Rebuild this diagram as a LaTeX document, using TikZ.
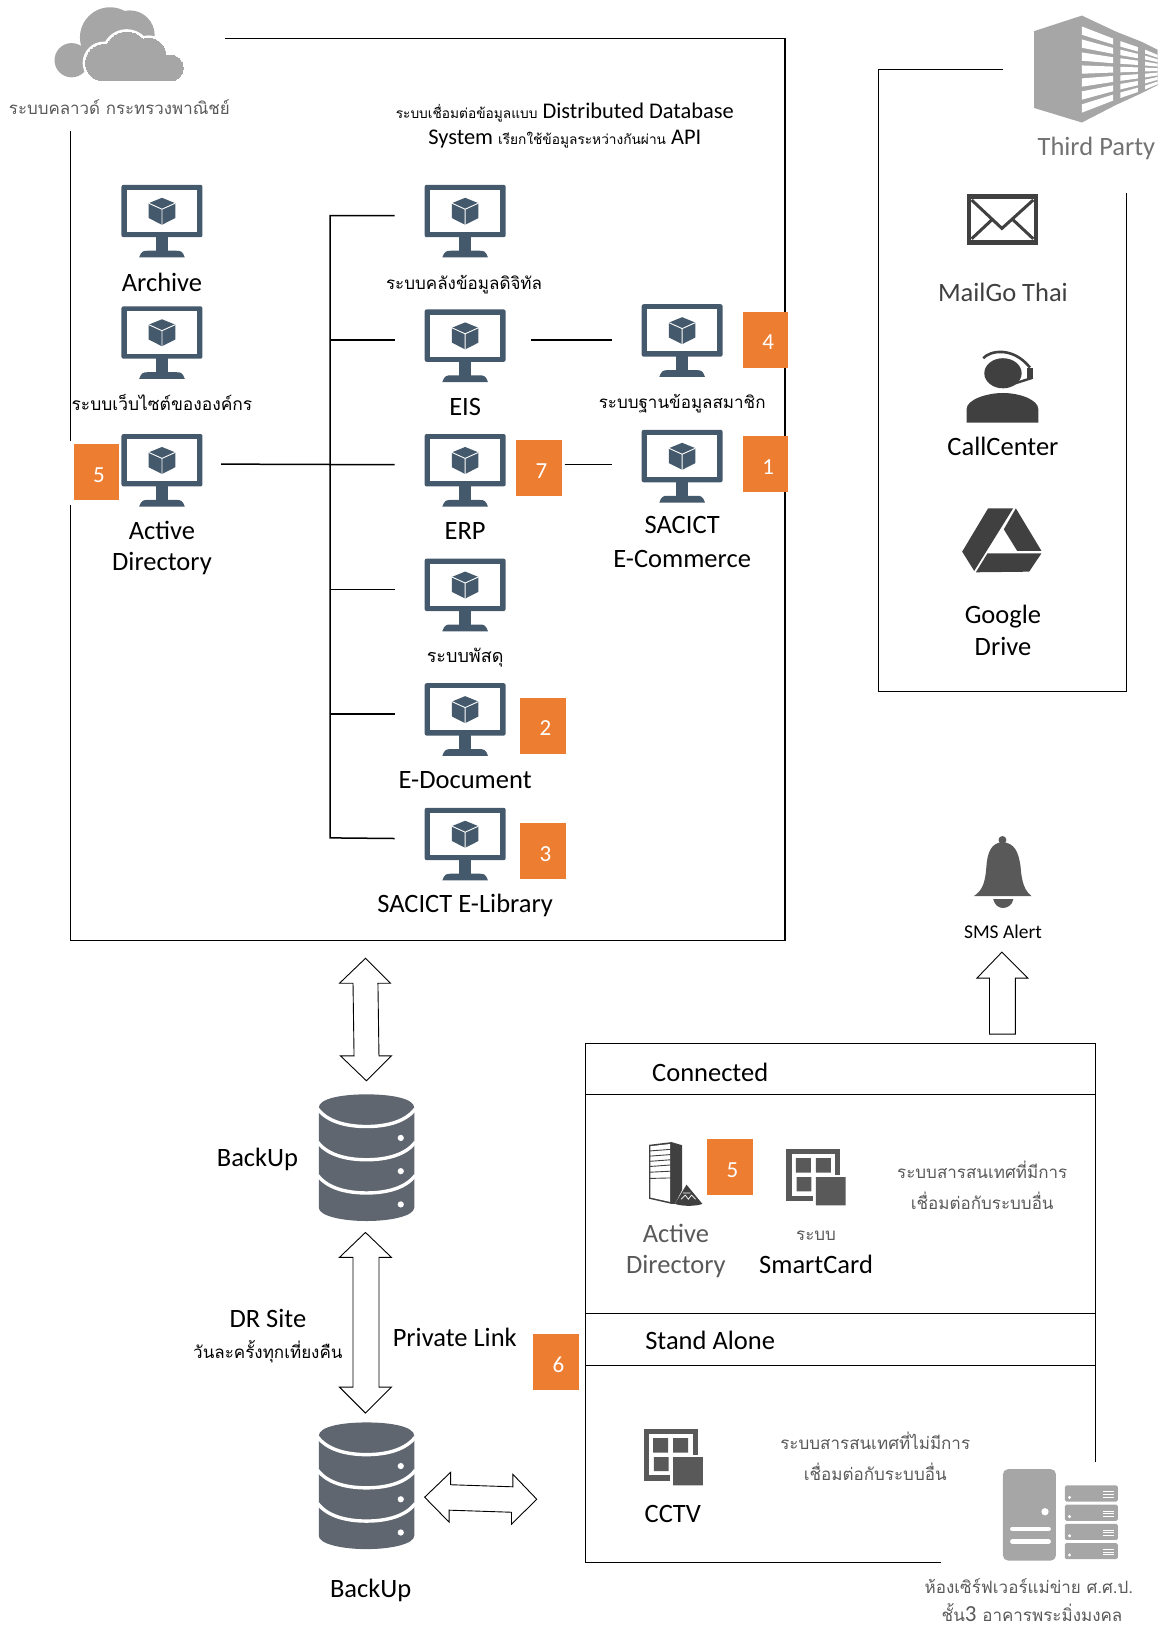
\documentclass[tikz,border=0pt]{standalone}
\usepackage{fontspec}
\setmainfont{Carlito}
\newfontfamily\thaifont[Script=Thai]{Loma}
\newcommand{\thaismall}[1]{{\thaifont\fontsize{13.7}{13.7}\selectfont #1}}
\newcommand{\badgenum}[1]{\hspace*{5pt}\raisebox{-10pt}[0pt][0pt]{#1}}
\definecolor{monitorblue}{HTML}{44596B}
\definecolor{badgeorange}{HTML}{ED7D31}
\definecolor{cloudgray}{HTML}{A6A6A6}
\definecolor{icondark}{HTML}{404040}
\definecolor{gridgray}{HTML}{595959}
\definecolor{dbgray}{HTML}{5F6670}
\tikzset{
  lbl/.style={inner sep=0pt,font=\fontsize{26.5}{26.5}\selectfont},
  thlbl/.style={inner sep=0pt,font=\thaifont\fontsize{17}{17}\selectfont},
  badge/.style={fill=badgeorange,text=white,minimum width=45.5pt,minimum height=56pt,inner sep=0pt,outer xsep=3pt,font=\fontsize{23}{23}\selectfont},
  boxline/.style={line width=1.5pt},
  blockarrow/.style={draw,line width=0.9pt,fill=white},
  monitor/.pic={
    \node[minimum width=81pt,minimum height=60pt,inner sep=0pt,outer xsep=30pt] (-box) at (0,29.6) {};
    \fill[monitorblue,rounded corners=2pt] (-39,0) rectangle (39,50.5);
    \fill[white] (-34,5) rectangle (34,45.5);
    \fill[monitorblue] (-6,50) rectangle (6,64);
    \fill[monitorblue] (-22,70) .. controls (-20,64) and (-18,63.5) .. (-14,63.5) -- (14,63.5) .. controls (18,63.5) and (20,64) .. (22,70) -- cycle;
    \fill[monitorblue] (0,12.5) -- (12.8,17.7) -- (12.8,32) -- (0,38.5) -- (-12.8,32) -- (-12.8,17.7) -- cycle;
    \draw[white,line width=0.9pt] (-12.8,17.7) -- (0,23.5) -- (12.8,17.7) (0,23.5) -- (0,38.5);
  },
  gridicon/.pic={
    \fill[gridgray] (0,0) rectangle (52,50);
    \fill[white] (5,5) rectangle (47,45);
    \fill[white] (25.5,25) rectangle (58,56);
    \fill[gridgray] (9,9) rectangle (23.5,23) (28.3,9) rectangle (42.8,23) (9.7,27.3) rectangle (24,41) (28.3,27.3) rectangle (57,54.5);
  },
  database/.pic={
    \fill[dbgray] (-46,13) .. controls (-46,4) and (-24,0) .. (0,0) .. controls (24,0) and (46,4) .. (46,13) -- (46,109) .. controls (46,117) and (24,122) .. (0,122) .. controls (-24,122) and (-46,117) .. (-46,109) -- cycle;
    \foreach \dy in {13,45,77}{
      \draw[white,line width=3.4pt] (-47,\dy+1) .. controls (-38,\dy+13) and (-20,\dy+18) .. (0,\dy+18) .. controls (20,\dy+18) and (38,\dy+13) .. (47,\dy+1);
      \fill[white] (33,\dy+29) circle (3);
    }
  },
  rackunit/.pic={
    \fill[cloudgray,rounded corners=1.5pt] (0,0) rectangle (51,15.5);
    \fill[white] (4.5,11.5) circle (1.6);
    \draw[white,line width=0.7pt] (37,6) -- (47,6) (37,8.5) -- (47,8.5) (37,11) -- (47,11);
  }
}
\begin{document}
\begin{tikzpicture}[x=1.0384pt,y=-1.0384pt]
\useasboundingbox (0,0) rectangle (1120,1568);
% cloud
\fill[cloudgray] (69,58) circle (16.5) (106,36) circle (29) (125,34) circle (24);
\fill[cloudgray] (85,60) rectangle (125,74.5);
\foreach \c/\w in {white/6pt,cloudgray/0pt}{
  \fill[\c,draw=\c,line width=\w] (100,60.5) circle (17.5) (122,52) circle (21) (143,54) circle (17) (164,65.5) circle (12.5);
  \fill[\c,draw=\c,line width=\w] (100,64) rectangle (164,78);
}
\node[lbl,font=\thaifont\fontsize{16.9}{16.9}\selectfont,text=gridgray] (cloudlabel) at (115,103) {ระบบคลาวด์ กระทรวงพาณิชย์};
% main box
\coordinate (maintl) at (217,37);
\coordinate (mainbr) at (756,906);
\coordinate (mainbl) at (68,906);
\draw[boxline] (maintl) -| (mainbr) -- (mainbl) -- (68,486);
\draw[boxline] (68,425) -- (68,126);
\node[lbl,font=\fontsize{22.4}{22.4}\selectfont] (dist1) at (544,108) {\thaismall{ระบบเชื่อมต่อข้อมูลแบบ} Distributed Database};
\node[lbl,font=\fontsize{22.4}{22.4}\selectfont] (dist2) at (544,134) {System \thaismall{เรียกใช้ข้อมูลระหว่างกันผ่าน} API};
% monitors
\pic (archive) at (156,178) {monitor};
\pic (website) at (156,295) {monitor};
\pic (adhome) at (156,418) {monitor};
\pic (digital) at (448,178) {monitor};
\pic (eis) at (448,298) {monitor};
\pic (erp) at (448,418) {monitor};
\pic (parcel) at (448,538) {monitor};
\pic (edoc) at (448,658) {monitor};
\pic (library) at (448,778) {monitor};
\pic (member) at (657,293) {monitor};
\pic (sacict) at (657,414) {monitor};
\node[lbl] (archivelabel) at (156,272) {Archive};
\node[thlbl,font=\thaifont\fontsize{17.4}{17.4}\selectfont] (websitelabel) at (156,388) {ระบบเว็บไซต์ขององค์กร};
\node[lbl] (adlabel) at (156,511) {Active};
\node[lbl] (adlabelb) at (156,543) {Directory};
\node[thlbl] (digitallabel) at (447,274) {ระบบคลังข้อมูลดิจิทัล};
\node[lbl] (eislabel) at (448,392) {EIS};
\node[lbl] (erplabel) at (448,511) {ERP};
\node[thlbl,font=\thaifont\fontsize{18}{18}\selectfont] (parcellabel) at (448,633) {ระบบพัสดุ};
\node[lbl] (edoclabel) at (448,751) {E-Document};
\node[lbl] (librarylabel) at (448,872) {SACICT E-Library};
\node[thlbl] (memberlabel) at (657,389) {ระบบฐานข้อมูลสมาชิก};
\node[lbl] (sacictlabel) at (657,506) {SACICT};
\node[lbl] (sacictlabelb) at (657,538) {E-Commerce};
% badges
\node[badge] (b4) at (737.5,327) {\badgenum{4}};
\node[badge] (b1) at (737.5,447) {\badgenum{1}};
\node[badge] (b7) at (519,451) {\badgenum{7}};
\node[badge] (b5) at (93,455) {\badgenum{5}};
\node[badge] (b2) at (523,699) {\badgenum{2}};
\node[badge] (b3) at (523,820) {\badgenum{3}};
\node[badge] (b5b) at (703,1124) {\badgenum{5}};
\node[badge] (b6) at (535.5,1312) {\badgenum{6}};
% links
\coordinate (busbot) at (318,807);
\coordinate (adout) at (213,447);
\draw[boxline] (digital-box.west) -- (digital-box.west -| busbot) -- (busbot) -- (library-box.west);
\foreach \n in {eis,parcel,edoc}{
  \draw[boxline] (\n-box.west) -- (\n-box.west -| busbot);
}
\draw[boxline] (adout) -- (erp-box.west);
\draw[boxline,shorten <=-5pt] (eis-box.east) -- (eis-box.east -| member-box.west);
\draw[boxline] (erp-box.east -| b7.east) -- (erp-box.east -| sacict-box.west);
% third party
\fill[cloudgray] (996,30) -- (1042,15) -- (1075,30.5) -- (1099,40) -- (1115,48) -- (1115,82) -- (1099,90) -- (1075,101) -- (1042,118) -- (996,104) -- cycle;
\foreach \xa/\ha/\xb/\hb in {1042/50/1072/36,1079/33/1096/26,1103/23/1115/17}{
  \foreach \t in {-0.75,-0.5,-0.25,0,0.25,0.5,0.75}{
    \fill[white] (\xa,67+\t*\ha-0.08*\ha) -- (\xa,67+\t*\ha+0.08*\ha) -- (\xb,67+\t*\hb+0.08*\hb) -- (\xb,67+\t*\hb-0.08*\hb) -- cycle;
  }
}
\node[lbl,text=gridgray!85] (thirdlabel) at (1056,143) {Third Party};
\coordinate (thirdstart) at (966,67);
\coordinate (thirdend) at (1085,186);
\draw[boxline] (thirdstart) -- (846,67) -- (846,666) -- (1085,666) -- (thirdend);
% mail
\fill[icondark] (931,187) rectangle (1000,236);
\fill[white] (935.5,191.5) rectangle (995.5,231.5);
\draw[icondark,line width=3pt] (935.8,192.6) -- (965,220) -- (995.2,192.6) (935.8,230) -- (955,212) (995.2,230) -- (976,212);
\node[lbl,text=icondark] (maillabel) at (966,282) {MailGo Thai};
% call center
\fill[icondark] (966,359.5) ellipse (18 and 14.5);
\fill[icondark] (931,407) -- (931,394) .. controls (931,385) and (950,378.5) .. (966,378.5) .. controls (982,378.5) and (1000,385) .. (1000,394) -- (1000,407) -- cycle;
\draw[icondark,line width=2.6pt] (947,345) .. controls (953,338) and (975,333) .. (992,354);
\fill[icondark] (989,354) rectangle (995,365);
\draw[icondark,line width=2.4pt,line cap=round] (994,364) -- (972,371);
\node[lbl] (calllabel) at (966,430) {CallCenter};
% drive
\fill[icondark] (951.7,489.6) -- (975.8,489.6) -- (938.3,549.9) -- (926.7,531.3) -- cycle;
\fill[icondark] (978.4,489.6) -- (1003.1,530.6) -- (979.7,530.6) -- (966.8,509.8) -- cycle;
\fill[icondark] (951.1,532.9) -- (1003.1,532.9) -- (991.2,550.6) -- (939.9,551.2) -- cycle;
\node[lbl] (drivelabel) at (966,594) {Google};
\node[lbl] (drivelabelb) at (966,623) {Drive};
% bell
\fill[gridgray] (965.5,809) circle (3.8);
\fill[gridgray] (938,863) .. controls (946,858) and (949,850) .. (950,835) .. controls (951,820) and (955,812) .. (965.5,811) .. controls (977,812) and (981,820) .. (983,835) .. controls (984,850) and (987,858) .. (993.5,863) -- cycle;
\fill[gridgray] (956.6,866) .. controls (958,872) and (962,874.5) .. (966,874.5) .. controls (970,874.5) and (975,872) .. (976,866) -- cycle;
\node[lbl,font=\fontsize{19.5}{19.5}\selectfont] (smslabel) at (966,897) {SMS Alert};
% block arrows
\draw[blockarrow] (965,917) -- (990,942) -- (978,942) -- (978,996) -- (953,996) -- (953,942) -- (941,942) -- cycle;
\draw[blockarrow] (352,923) -- (376,947) -- (364,947) -- (365,1017) -- (377,1017) -- (353,1041) -- (328,1017) -- (341,1017) -- (340,947) -- (327,947) -- cycle;
\draw[blockarrow] (352,1187) -- (377,1211) -- (365,1211) -- (365,1336) -- (377,1336) -- (352,1361) -- (327,1336) -- (340,1336) -- (340,1211) -- (327,1211) -- cycle;
\draw[blockarrow] (409,1442) -- (434,1418) -- (434,1430) -- (494,1432) -- (494,1420) -- (517,1444) -- (492.6,1468) -- (492.6,1456.5) -- (432.5,1454.5) -- (432.5,1466) -- cycle;
% backups
\pic (dbtop) at (353,1054) {database};
\pic (dbbottom) at (353,1370) {database};
\node[lbl] (dbtoplabel) at (248,1117) {BackUp};
\node[lbl] (dbbottomlabel) at (357,1532) {BackUp};
\node[lbl] (drlabel) at (258,1270) {DR Site};
\node[thlbl] (drlabelb) at (258,1302) {วันละครั้งทุกเที่ยงคืน};
\node[lbl] (linklabel) at (438,1288) {Private Link};
% connected and stand alone
\coordinate (panelend) at (1055,1408);
\coordinate (panelfoot) at (906,1505);
\draw[boxline] (panelend) |- (564,1005) |- (panelfoot);
\draw[boxline] (564,1054) -- (1055,1054) (564,1265) -- (1055,1265) (564,1315) -- (1055,1315);
\node[lbl] (connectedlabel) at (684,1033) {Connected};
\node[lbl] (standlabel) at (684,1291) {Stand Alone};
% active directory server
\fill[icondark] (625.3,1102.6) -- (646.8,1100) -- (657,1103) -- (657,1146) -- (650,1159.5) -- (646.8,1159.5) -- (625.3,1154.6) -- cycle;
\fill[white] (626.5,1104) -- (645.5,1101.8) -- (645.5,1157.6) -- (626.5,1153.4) -- cycle;
\foreach \ya/\yb in {1108.5/1107,1113.5/1112,1118.5/1117,1123.5/1122,1129/1128,1135/1134.5}{
  \draw[icondark,line width=0.9pt] (626,\ya) -- (646,\yb);
}
\fill[icondark] (661.2,1141) -- (676.5,1159.5) .. controls (670,1162) and (657,1162) .. (650,1159.5) -- cycle;
\draw[white,line width=0.7pt] (656,1155) -- (660,1151) -- (663,1155) -- (666,1151) -- (670,1155) (658,1149) -- (665,1149);
\node[lbl,text=gridgray] (adlabelc) at (651,1188) {Active};
\node[lbl,text=gridgray] (adlabeld) at (651,1220) {Directory};
% smart card
\pic (smart) at (757.5,1106.5) {gridicon};
\node[thlbl,text=gridgray] (smartlabel) at (786,1190) {ระบบ};
\node[lbl] (smartlabelb) at (786,1218) {SmartCard};
\node[thlbl,text=gridgray] (conntext) at (946,1127) {ระบบสารสนเทศที่มีการ};
\node[thlbl,text=gridgray] (conntextb) at (946,1157) {เชื่อมต่อกับระบบอื่น};
% cctv
\pic (cctv) at (620,1376) {gridicon};
\node[lbl] (cctvlabel) at (648,1458) {CCTV};
\node[thlbl,text=gridgray] (alonetext) at (843,1388) {ระบบสารสนเทศที่ไม่มีการ};
\node[thlbl,text=gridgray] (alonetextb) at (843,1418) {เชื่อมต่อกับระบบอื่น};
% server room
\fill[cloudgray,rounded corners=5pt] (966,1415) rectangle (1017,1503);
\fill[white] (1006.5,1456) circle (3.5);
\draw[white,line width=4.5pt,line cap=round] (975,1472.5) -- (1010,1472.5) (975,1484.6) -- (1010,1484.6);
\foreach \y in {1430.7,1449.2,1467.7,1486.2}{
  \pic at (1025.6,\y) {rackunit};
}
\node[thlbl,text=gridgray] (roomlabel) at (991,1528) {ห้องเซิร์ฟเวอร์แม่ข่าย ศ.ศ.ป.};
\node[thlbl,text=gridgray] (roomlabelb) at (994,1553) {ชั้น{\fontsize{23}{23}\selectfont\rmfamily 3} อาคารพระมิ่งมงคล};
\end{tikzpicture}
\end{document}
